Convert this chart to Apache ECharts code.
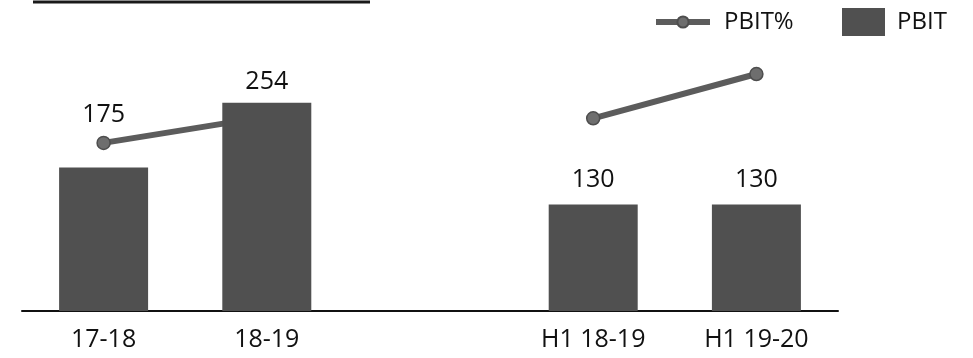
<!DOCTYPE html>
<html>
<head>
<meta charset="utf-8">
<script src="https://cdn.jsdelivr.net/npm/echarts@6/dist/echarts.min.js"></script>
<style>
html,body{margin:0;padding:0;background:#fff;}
#chart{width:973px;height:358px;}
</style>
</head>
<body>
<div id="chart"></div>
<script>
const categories = ['17-18', '18-19', '', 'H1 18-19', 'H1 19-20'];
const pbitValues = [175, 254, null, 130, 130];
const pbitPctValues = [20.5, 23.7, null, 23.5, 28.9];
const labelDistances = [40, 8, 8, 12, 12];

const FONT = '"Open Sans", "Noto Sans", sans-serif';
const chart = echarts.init(document.getElementById('chart'));

const barData = pbitValues.map((v, i) => v === null ? '-' : {
  value: v,
  label: { distance: labelDistances[i] }
});

chart.setOption({
  animation: false,
  backgroundColor: '#ffffff',
  graphic: [{
    type: 'line',
    shape: { x1: 33, y1: 2, x2: 370, y2: 2 },
    style: { stroke: '#1a1a1a', lineWidth: 3 }
  }],
  legend: [{
    data: ['PBIT%'],
    left: 653,
    top: 8,
    padding: 0,
    itemWidth: 54,
    itemHeight: 14,
    lineStyle: { width: 6, color: '#5c5c5c' },
    itemStyle: { color: '#6e6e6e' },
    textStyle: { fontFamily: FONT, fontSize: 24, color: '#111', lineHeight: 28, padding: [0, 0, 0, 9] }
  }, {
    data: ['PBIT'],
    left: 842,
    top: 8,
    padding: 0,
    icon: 'rect',
    itemWidth: 43,
    itemHeight: 28,
    textStyle: { fontFamily: FONT, fontSize: 24, color: '#111', lineHeight: 28, padding: [0, 0, 0, 7] }
  }],
  grid: { left: 22, right: 135, top: 65, bottom: 47, containLabel: false },
  xAxis: {
    type: 'category',
    data: categories,
    axisLine: { lineStyle: { color: '#111', width: 2 } },
    axisTick: { show: false },
    axisLabel: { fontFamily: FONT, fontSize: 25, color: '#111', margin: 16, interval: 0 }
  },
  yAxis: [{
    type: 'value', min: 0, max: 300, show: false, splitLine: { show: false }
  }, {
    type: 'value', min: 0, max: 30, show: false, splitLine: { show: false }
  }],
  series: [{
    name: 'PBIT',
    type: 'bar',
    data: barData,
    barWidth: 89,
    z: 3,
    itemStyle: { color: '#505050' },
    label: {
      show: true,
      position: 'top',
      fontFamily: FONT,
      fontSize: 25,
      color: '#111'
    }
  }, {
    name: 'PBIT%',
    type: 'line',
    yAxisIndex: 1,
    data: pbitPctValues,
    connectNulls: false,
    z: 2,
    symbol: 'circle',
    symbolSize: 13,
    lineStyle: { color: '#5c5c5c', width: 6 },
    itemStyle: { color: '#6e6e6e', borderColor: '#4e4e4e', borderWidth: 1.5 }
  }]
});
</script>
</body>
</html>
